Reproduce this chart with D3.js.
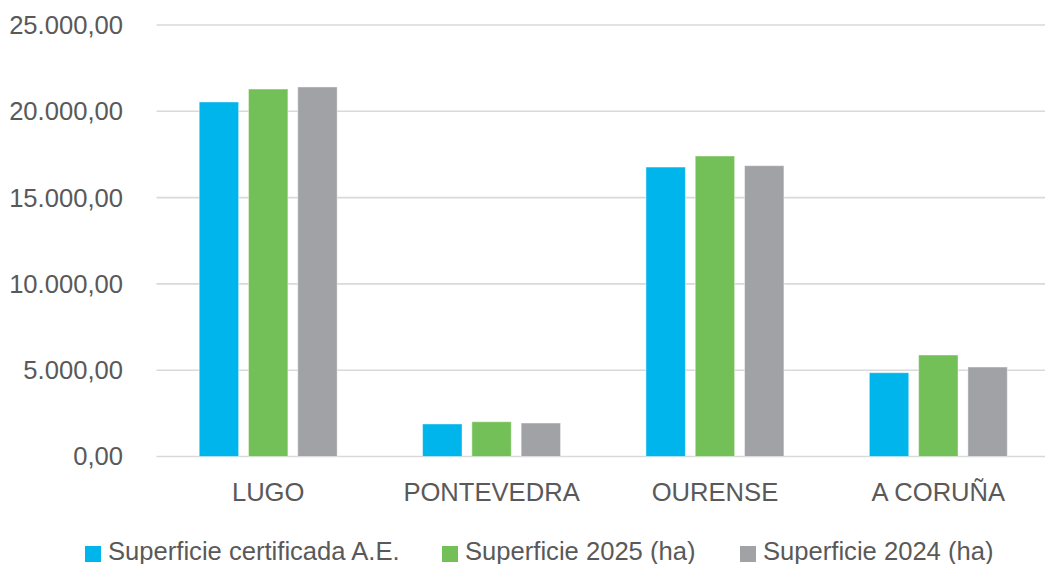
<!DOCTYPE html>
<html>
<head>
<meta charset="utf-8">
<script src="https://cdn.jsdelivr.net/npm/d3@7"></script>
<style>
    body { margin: 0; background: #ffffff; }
    svg { display: block; font-family: "Liberation Sans", Arial, sans-serif; }
</style>
</head>
<body>
<svg id="chart"></svg>
<script>
const categories = ['LUGO', 'PONTEVEDRA', 'OURENSE', 'A CORUÑA'];
const seriesNames = ['Superficie certificada A.E.', 'Superficie 2025 (ha)', 'Superficie 2024 (ha)'];
const certificada = [20540, 1885, 16770, 4855];
const sup2025 = [21290, 2015, 17410, 5880];
const sup2024 = [21410, 1940, 16850, 5185];
const yTicks = [0, 5000, 10000, 15000, 20000, 25000];
const colors = ['#00b4ec', '#74c058', '#a0a2a6'];

const width = 1045;
const height = 564;
const margin = {top: 25, right: -5, bottom: 107.5, left: 156.5};
const fontSize = '25.6px';

const chart = d3.select('#chart')
    .attr('width', width)
    .attr('height', height);

const x0 = d3.scaleBand()
    .domain(categories)
    .range([margin.left, width - margin.right])
    .padding(0);

const groupPad = 42.7;
const x1 = d3.scaleBand()
    .domain(seriesNames)
    .range([groupPad, x0.bandwidth() - groupPad])
    .paddingInner(0.2)
    .paddingOuter(0);

const y = d3.scaleLinear()
    .domain([0, 25000])
    .range([height - margin.bottom, margin.top]);

const fmt = function(v) {
    return d3.format(',.2f')(v).replace(/,/g, 'X').replace('.', ',').replace(/X/g, '.');
};

// gridlines
chart.append('g')
    .selectAll('line')
    .data(yTicks)
    .enter()
    .append('line')
    .attr('x1', margin.left)
    .attr('x2', width)
    .attr('y1', function(d) { return y(d); })
    .attr('y2', function(d) { return y(d); })
    .attr('stroke', '#d9d9d9')
    .attr('stroke-width', 1.6);

// y labels
chart.append('g')
    .selectAll('text')
    .data(yTicks)
    .enter()
    .append('text')
    .attr('x', 123)
    .attr('y', function(d) { return y(d); })
    .attr('dy', '.35em')
    .attr('text-anchor', 'end')
    .attr('fill', '#595959')
    .style('font-size', fontSize)
    .text(fmt);

const table = categories.map(function(c, i) {
    return {category: c, values: [certificada[i], sup2025[i], sup2024[i]]};
});

const groups = chart.append('g')
    .selectAll('g')
    .data(table)
    .enter()
    .append('g')
    .attr('transform', function(d) { return 'translate(' + x0(d.category) + ',0)'; });

groups.selectAll('rect')
    .data(function(d) {
        return d.values.map(function(v, i) { return {name: seriesNames[i], value: v, index: i}; });
    })
    .enter()
    .append('rect')
    .attr('x', function(d) { return x1(d.name); })
    .attr('y', function(d) { return y(d.value); })
    .attr('width', x1.bandwidth())
    .attr('height', function(d) { return y(0) - y(d.value); })
    .attr('fill', function(d) { return colors[d.index]; })
    .attr('stroke', 'rgba(255,255,255,0.45)')
    .attr('stroke-width', 1);

// category labels
chart.append('g')
    .selectAll('text')
    .data(categories)
    .enter()
    .append('text')
    .attr('x', function(d) { return x0(d) + x0.bandwidth() / 2; })
    .attr('y', 501)
    .attr('text-anchor', 'middle')
    .attr('fill', '#595959')
    .style('font-size', fontSize)
    .text(function(d) { return d; });

// legend
const legendX = [85, 442, 740];
const legend = chart.append('g');
seriesNames.forEach(function(name, i) {
    legend.append('rect')
        .attr('x', legendX[i])
        .attr('y', 546)
        .attr('width', 16)
        .attr('height', 16)
        .attr('fill', colors[i]);
    legend.append('text')
        .attr('x', legendX[i] + 23)
        .attr('y', 560)
        .attr('fill', '#595959')
        .style('font-size', fontSize)
        .text(name);
});
</script>
</body>
</html>
